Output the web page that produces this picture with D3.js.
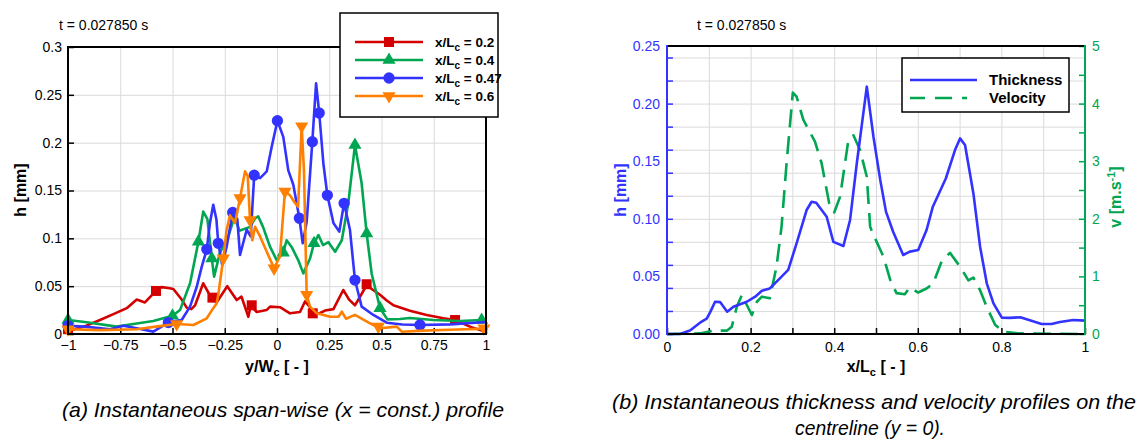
<!DOCTYPE html>
<html>
<head>
<meta charset="utf-8">
<script src="https://cdn.jsdelivr.net/npm/d3@7"></script>
<style>
body { margin: 0; background: #fff; }
svg { display: block; font-family: "Liberation Sans", Arial, sans-serif; }
.grid line { stroke: #dadada; stroke-width: 1; }
.grid path { display: none; }
.ax path { display: none; }
</style>
</head>
<body>
<svg id="fig" width="1139" height="442"></svg>
<script>
// ---- panel (a): span-wise profiles, [y/Wc, h] ----
let spanRed = [[-1,0.003],[-0.92,0.008],[-0.847,0.0146],[-0.78,0.021],[-0.719,0.027],[-0.671,0.036],[-0.632,0.033],
	[-0.579,0.045],[-0.552,0.049],[-0.52,0.048],[-0.496,0.047],[-0.456,0.036],[-0.432,0.0275],[-0.41,0.026],[-0.392,0.03],
	[-0.353,0.053],[-0.312,0.037],[-0.289,0.033],[-0.238,0.050],[-0.193,0.0355],[-0.17,0.039],[-0.137,0.018],[-0.126,0.0297],
	[-0.097,0.023],[-0.05,0.025],[-0.033,0.0286],[0.014,0.028],[0.062,0.0216],[0.11,0.023],[0.134,0.034],[0.158,0.028],
	[0.171,0.0216],[0.206,0.022],[0.23,0.0245],[0.27,0.026],[0.317,0.046],[0.345,0.036],[0.373,0.030],[0.4,0.04],
	[0.429,0.051],[0.46,0.046],[0.493,0.041],[0.525,0.035],[0.557,0.030],[0.6,0.027],[0.636,0.0244],[0.716,0.0199],
	[0.796,0.0164],[0.852,0.0146],[0.923,0.0077],[1,0.002]];
let spanGreen = [[-1,0.0146],[-0.92,0.0125],[-0.767,0.0077],[-0.671,0.011],[-0.592,0.0136],[-0.5,0.019],[-0.464,0.025],
	[-0.416,0.053],[-0.376,0.0965],[-0.353,0.128],[-0.333,0.12],[-0.312,0.079],[-0.301,0.06],[-0.273,0.085],[-0.233,0.102],
	[-0.203,0.1226],[-0.18,0.108],[-0.129,0.112],[-0.105,0.121],[-0.09,0.123],[-0.067,0.112],[-0.033,0.091],[-0.001,0.077],
	[0.03,0.085],[0.046,0.098],[0.07,0.091],[0.102,0.077],[0.126,0.0634],[0.158,0.079],[0.177,0.0948],[0.198,0.1035],
	[0.22,0.093],[0.246,0.096],[0.278,0.086],[0.31,0.098],[0.341,0.1366],[0.373,0.1975],[0.405,0.1575],[0.429,0.105],
	[0.453,0.063],[0.493,0.027],[0.528,0.0153],[0.589,0.0157],[0.636,0.0167],[0.748,0.0146],[0.876,0.0136],[0.979,0.0146],[1,0.014]];
let spanBlue = [[-1,0.0087],[-0.92,0.0077],[-0.799,0.0049],[-0.735,0.0087],[-0.671,0.006],[-0.592,0.0025],[-0.52,0.012],
	[-0.456,0.0146],[-0.416,0.0286],[-0.384,0.0494],[-0.36,0.0704],[-0.336,0.0885],[-0.321,0.1157],[-0.305,0.135],[-0.29,0.12],
	[-0.281,0.0948],[-0.262,0.0721],[-0.241,0.0913],[-0.212,0.127],[-0.19,0.12],[-0.177,0.0826],[-0.145,0.109],[-0.126,0.102],
	[-0.109,0.166],[-0.081,0.163],[-0.049,0.170],[-0.025,0.196],[0.002,0.223],[0.03,0.206],[0.054,0.171],[0.078,0.156],
	[0.107,0.121],[0.123,0.0948],[0.142,0.117],[0.169,0.201],[0.187,0.262],[0.202,0.231],[0.222,0.178],[0.241,0.145],
	[0.27,0.116],[0.298,0.107],[0.321,0.1366],[0.349,0.109],[0.373,0.0564],[0.405,0.0286],[0.461,0.0199],[0.525,0.0118],
	[0.6,0.01],[0.684,0.0094],[0.828,0.0101],[1,0.0125]];
let spanOrange = [[-1,0.005],[-0.85,0.004],[-0.67,0.005],[-0.58,0.0077],[-0.48,0.0105],[-0.4,0.0094],[-0.336,0.0164],
	[-0.305,0.027],[-0.289,0.032],[-0.281,0.041],[-0.257,0.079],[-0.241,0.109],[-0.225,0.124],[-0.201,0.116],[-0.177,0.142],
	[-0.153,0.170],[-0.14,0.165],[-0.129,0.119],[-0.118,0.098],[-0.105,0.112],[-0.081,0.102],[-0.049,0.086],[-0.014,0.0687],
	[0.014,0.081],[0.038,0.149],[0.062,0.145],[0.086,0.137],[0.101,0.133],[0.118,0.217],[0.129,0.171],[0.142,0.041],
	[0.158,0.0286],[0.19,0.0216],[0.254,0.0181],[0.294,0.018],[0.31,0.0233],[0.33,0.016],[0.373,0.020],[0.445,0.0112],
	[0.493,0.006],[0.573,0.0077],[0.597,0.0024],[0.7,0.0035],[0.828,0.0045],[1,0.0056]];

// symbol positions
let redMarks = [[-1,0.005],[-0.579,0.045],[-0.309,0.038],[-0.121,0.030],[0.171,0.0216],[0.429,0.052],[0.852,0.0146]];
let greenMarks = [[-1,0.0146],[-0.5,0.019],[-0.376,0.0965],[-0.312,0.079],[0.03,0.085],[0.177,0.0948],[0.373,0.1975],
	[0.429,0.105],[0.493,0.027],[0.979,0.0146]];
let blueMarks = [[-1,0.0087],[-0.52,0.012],[-0.336,0.0885],[-0.281,0.0948],[-0.212,0.127],[-0.109,0.166],[0.002,0.223],
	[0.107,0.121],[0.169,0.201],[0.202,0.231],[0.241,0.145],[0.321,0.1366],[0.373,0.0564],[0.684,0.0094]];
let orangeMarks = [[-1,0.005],[-0.48,0.0105],[-0.257,0.079],[-0.177,0.142],[-0.129,0.119],[-0.014,0.0687],[0.038,0.149],
	[0.118,0.217],[0.142,0.041],[0.485,0.0077],[0.99,0.006]];

let spanLabels = ["0.2", "0.4", "0.47", "0.6"];
let spanXTicks = [-1, -0.75, -0.5, -0.25, 0, 0.25, 0.5, 0.75, 1];
let spanYTicks = [0, 0.05, 0.1, 0.15, 0.2, 0.25, 0.3];

// ---- panel (b): centreline, [x/Lc, h] and [x/Lc, v] ----
let thickness = [[0,0],[0.031,0],[0.055,0.003],[0.079,0.0098],[0.095,0.0133],[0.104,0.0194],[0.115,0.028],[0.127,0.0277],
	[0.144,0.0194],[0.159,0.0237],[0.191,0.028],[0.211,0.0324],[0.227,0.0376],[0.246,0.0396],[0.27,0.0483],[0.29,0.0556],
	[0.31,0.0787],[0.334,0.1076],[0.346,0.1148],[0.357,0.114],[0.382,0.1018],[0.398,0.080],[0.422,0.0764],[0.438,0.099],
	[0.454,0.148],[0.478,0.2147],[0.494,0.171],[0.51,0.134],[0.524,0.106],[0.541,0.0888],[0.565,0.0686],[0.581,0.0715],
	[0.601,0.0729],[0.621,0.0903],[0.636,0.1105],[0.667,0.135],[0.689,0.1597],[0.701,0.1698],[0.713,0.164],[0.733,0.122],
	[0.749,0.0758],[0.765,0.044],[0.781,0.0266],[0.801,0.0142],[0.82,0.014],[0.845,0.0145],[0.868,0.012],[0.896,0.0087],
	[0.92,0.0087],[0.94,0.0104],[0.972,0.0122],[1,0.0116]];
let velocity = [[0,0],[0.05,0.005],[0.079,0.01],[0.111,0.058],[0.143,0.058],[0.155,0.127],[0.167,0.474],[0.179,0.677],
	[0.191,0.503],[0.203,0.33],[0.215,0.56],[0.227,0.648],[0.246,0.619],[0.262,1.17],[0.274,1.86],[0.286,2.96],[0.301,4.19],
	[0.31,4.12],[0.326,3.72],[0.354,3.34],[0.37,2.96],[0.388,2.27],[0.40,2.11],[0.414,2.38],[0.434,3.37],[0.446,3.45],
	[0.462,3.19],[0.478,2.73],[0.486,1.86],[0.494,1.72],[0.518,1.34],[0.534,0.94],[0.549,0.71],[0.569,0.69],[0.581,0.81],
	[0.601,0.72],[0.621,0.79],[0.637,0.88],[0.657,1.26],[0.677,1.41],[0.701,1.17],[0.721,0.93],[0.733,0.98],[0.749,0.76],
	[0.765,0.47],[0.785,0.16],[0.805,0.04],[0.84,0.01],[1,0]];

let clXTicks = [0, 0.2, 0.4, 0.6, 0.8, 1];
let clHTicks = [0, 0.05, 0.1, 0.15, 0.2, 0.25];
let clVTicks = [0, 1, 2, 3, 4, 5];

let red = "#d40000", green = "#00a651", blue = "#3333ff", orange = "#ff8000";
let svg = d3.select("#fig");

function sub(t, main, s, rest, size) {
	t.append("tspan").text(main);
	t.append("tspan").attr("font-size", size).attr("dy", 4).text(s);
	t.append("tspan").attr("dy", -4).text(rest);
}

// ================= panel (a) =================
let ax = d3.scaleLinear().domain([-1, 1]).range([68, 486]);
let ay = d3.scaleLinear().domain([0, 0.3]).range([334, 47]);

svg.append("g").attr("class", "grid").attr("transform", "translate(0,334)")
	.call(d3.axisBottom(ax).tickValues(spanXTicks).tickSize(-287).tickFormat(""));
svg.append("g").attr("class", "grid").attr("transform", "translate(68,0)")
	.call(d3.axisLeft(ay).tickValues(spanYTicks).tickSize(-418).tickFormat(""));

let fmtA = d3.format("~g");
svg.append("g").attr("class", "ax").attr("transform", "translate(0,334)")
	.call(d3.axisBottom(ax).tickValues(spanXTicks).tickSize(-6).tickPadding(6).tickFormat(fmtA))
	.call(g => g.selectAll("text").attr("font-size", 14).attr("fill", "#000").attr("font-family", "Liberation Sans"))
	.call(g => g.selectAll("line").attr("stroke", "#000").attr("stroke-width", 1.5));
svg.append("g").attr("class", "ax").attr("transform", "translate(68,0)")
	.call(d3.axisLeft(ay).tickValues(spanYTicks).tickSize(-6).tickPadding(6).tickFormat(fmtA))
	.call(g => g.selectAll("text").attr("font-size", 14).attr("fill", "#000").attr("font-family", "Liberation Sans"))
	.call(g => g.selectAll("line").attr("stroke", "#000").attr("stroke-width", 1.5));

let lineA = d3.line().x(d => ax(d[0])).y(d => ay(d[1]));
let seriesA = [
	{ data: spanRed, marks: redMarks, color: red, sym: d3.symbolSquare, rot: 0, size: 100 },
	{ data: spanGreen, marks: greenMarks, color: green, sym: d3.symbolTriangle, rot: 0, size: 75 },
	{ data: spanBlue, marks: blueMarks, color: blue, sym: d3.symbolCircle, rot: 0, size: 100 },
	{ data: spanOrange, marks: orangeMarks, color: orange, sym: d3.symbolTriangle, rot: 180, size: 75 }
];
seriesA.forEach(s => {
	svg.append("path").datum(s.data)
		.attr("d", lineA).attr("fill", "none").attr("stroke", s.color)
		.attr("stroke-width", 2.6).attr("stroke-linejoin", "round");
	svg.append("g").selectAll("path").data(s.marks).join("path")
		.attr("d", d3.symbol(s.sym, s.size))
		.attr("transform", d => `translate(${ax(d[0])},${ay(d[1])}) rotate(${s.rot})`)
		.attr("fill", s.color);
});

svg.append("rect").attr("x", 68).attr("y", 47).attr("width", 418).attr("height", 287)
	.attr("fill", "none").attr("stroke", "#000").attr("stroke-width", 2);

// legend (a)
let legA = svg.append("g");
legA.append("rect").attr("x", 340).attr("y", 13).attr("width", 158).attr("height", 104)
	.attr("fill", "#fff").attr("stroke", "#000").attr("stroke-width", 1.5);
seriesA.forEach((s, i) => {
	let yy = 42 + i * 18;
	legA.append("line").attr("x1", 355).attr("x2", 423).attr("y1", yy).attr("y2", yy)
		.attr("stroke", s.color).attr("stroke-width", 2.6);
	legA.append("path").attr("d", d3.symbol(s.sym, s.size))
		.attr("transform", `translate(389,${yy}) rotate(${s.rot})`).attr("fill", s.color);
	let t = legA.append("text").attr("x", 435).attr("y", yy + 5)
		.attr("font-size", 13.5).attr("font-weight", "bold");
	sub(t, "x/L", "c", " = " + spanLabels[i], 10);
});

svg.append("text").attr("x", 59).attr("y", 30).attr("font-size", 14).text("t = 0.027850 s");
svg.append("text").attr("transform", "translate(26,190) rotate(-90)")
	.attr("text-anchor", "middle").attr("font-size", 16).attr("font-weight", "bold").text("h [mm]");
let xlA = svg.append("text").attr("x", 277).attr("y", 372).attr("text-anchor", "middle")
	.attr("font-size", 16).attr("font-weight", "bold");
sub(xlA, "y/W", "c", " [ - ]", 11);

// ================= panel (b) =================
let bx = d3.scaleLinear().domain([0, 1]).range([667, 1085]);
let bh = d3.scaleLinear().domain([0, 0.25]).range([334, 46]);
let bv = d3.scaleLinear().domain([0, 5]).range([334, 46]);

svg.append("g").attr("class", "grid").attr("transform", "translate(0,334)")
	.call(d3.axisBottom(bx).ticks(10).tickSize(-288).tickFormat(""));
svg.append("g").attr("class", "grid").attr("transform", "translate(667,0)")
	.call(d3.axisLeft(bh).ticks(10).tickSize(-418).tickFormat(""));

// minor ticks, then labelled ticks
svg.append("g").attr("class", "ax").attr("transform", "translate(0,334)")
	.call(d3.axisBottom(bx).ticks(10).tickSize(-6).tickFormat(""))
	.call(g => g.selectAll("line").attr("stroke", "#000").attr("stroke-width", 1.5));
svg.append("g").attr("class", "ax").attr("transform", "translate(0,334)")
	.call(d3.axisBottom(bx).tickValues(clXTicks).tickSize(0).tickPadding(8).tickFormat(d3.format("~g")))
	.call(g => g.selectAll("text").attr("font-size", 14).attr("fill", "#000").attr("font-family", "Liberation Sans"));
svg.append("g").attr("class", "ax").attr("transform", "translate(667,0)")
	.call(d3.axisLeft(bh).ticks(10).tickSize(-6).tickFormat(""))
	.call(g => g.selectAll("line").attr("stroke", blue).attr("stroke-width", 1.5));
svg.append("g").attr("class", "ax").attr("transform", "translate(667,0)")
	.call(d3.axisLeft(bh).tickValues(clHTicks).tickSize(0).tickPadding(7).tickFormat(d3.format(".2f")))
	.call(g => g.selectAll("text").attr("font-size", 14).attr("fill", blue).attr("font-family", "Liberation Sans"));
svg.append("g").attr("class", "ax").attr("transform", "translate(1085,0)")
	.call(d3.axisRight(bv).ticks(10).tickSize(-6).tickFormat(""))
	.call(g => g.selectAll("line").attr("stroke", green).attr("stroke-width", 1.5));
svg.append("g").attr("class", "ax").attr("transform", "translate(1085,0)")
	.call(d3.axisRight(bv).tickValues(clVTicks).tickSize(0).tickPadding(7).tickFormat(d3.format("d")))
	.call(g => g.selectAll("text").attr("font-size", 14).attr("fill", green).attr("font-family", "Liberation Sans"));

svg.append("path").datum(velocity)
	.attr("d", d3.line().x(d => bx(d[0])).y(d => bv(d[1])))
	.attr("fill", "none").attr("stroke", green).attr("stroke-width", 2.6)
	.attr("stroke-dasharray", "18,9").attr("stroke-linejoin", "round");
svg.append("path").datum(thickness)
	.attr("d", d3.line().x(d => bx(d[0])).y(d => bh(d[1])))
	.attr("fill", "none").attr("stroke", blue).attr("stroke-width", 2.6).attr("stroke-linejoin", "round");

// frame (b)
svg.append("line").attr("x1", 667).attr("x2", 1085).attr("y1", 46).attr("y2", 46).attr("stroke", "#000").attr("stroke-width", 2);
svg.append("line").attr("x1", 667).attr("x2", 1085).attr("y1", 334).attr("y2", 334).attr("stroke", "#000").attr("stroke-width", 2);
svg.append("line").attr("x1", 667).attr("x2", 667).attr("y1", 45).attr("y2", 335).attr("stroke", blue).attr("stroke-width", 2);
svg.append("line").attr("x1", 1085).attr("x2", 1085).attr("y1", 45).attr("y2", 335).attr("stroke", green).attr("stroke-width", 2);

// legend (b)
let legB = svg.append("g");
legB.append("rect").attr("x", 902).attr("y", 58).attr("width", 167).attr("height", 54)
	.attr("fill", "#fff").attr("stroke", "#000").attr("stroke-width", 1.5);
legB.append("line").attr("x1", 910).attr("x2", 977).attr("y1", 80).attr("y2", 80)
	.attr("stroke", blue).attr("stroke-width", 2.6);
legB.append("line").attr("x1", 910).attr("x2", 967).attr("y1", 98).attr("y2", 98)
	.attr("stroke", green).attr("stroke-width", 2.6).attr("stroke-dasharray", "15,10,17,10,5,20");
legB.append("text").attr("x", 989).attr("y", 85).attr("font-size", 15).attr("font-weight", "bold").text("Thickness");
legB.append("text").attr("x", 989).attr("y", 103).attr("font-size", 15).attr("font-weight", "bold").text("Velocity");

svg.append("text").attr("x", 697).attr("y", 30).attr("font-size", 14).text("t = 0.027850 s");
svg.append("text").attr("transform", "translate(626,190) rotate(-90)")
	.attr("text-anchor", "middle").attr("font-size", 16).attr("font-weight", "bold").attr("fill", blue).text("h [mm]");
let vl = svg.append("text").attr("transform", "translate(1121,197) rotate(-90)")
	.attr("text-anchor", "middle").attr("font-size", 16).attr("font-weight", "bold").attr("fill", green);
vl.append("tspan").text("v [m.s");
vl.append("tspan").attr("font-size", 11).attr("dy", -6).text("-1");
vl.append("tspan").attr("dy", 6).text("]");
let xlB = svg.append("text").attr("x", 876).attr("y", 372).attr("text-anchor", "middle")
	.attr("font-size", 16).attr("font-weight", "bold");
sub(xlB, "x/L", "c", " [ - ]", 11);

// captions (condensed italic, squeezed to the widths in the figure)
function caption(x, y, txt, len) {
	svg.append("text").attr("x", x - len / 2).attr("y", y).text(txt)
		.attr("font-style", "italic").attr("font-size", 21)
		.attr("textLength", len).attr("lengthAdjust", "spacingAndGlyphs");
}
caption(283, 417, "(a) Instantaneous span-wise (x = const.) profile", 442);
caption(874, 409, "(b) Instantaneous thickness and velocity profiles on the", 524);
caption(870, 435, "centreline (y = 0).", 150);
</script>
</body>
</html>
